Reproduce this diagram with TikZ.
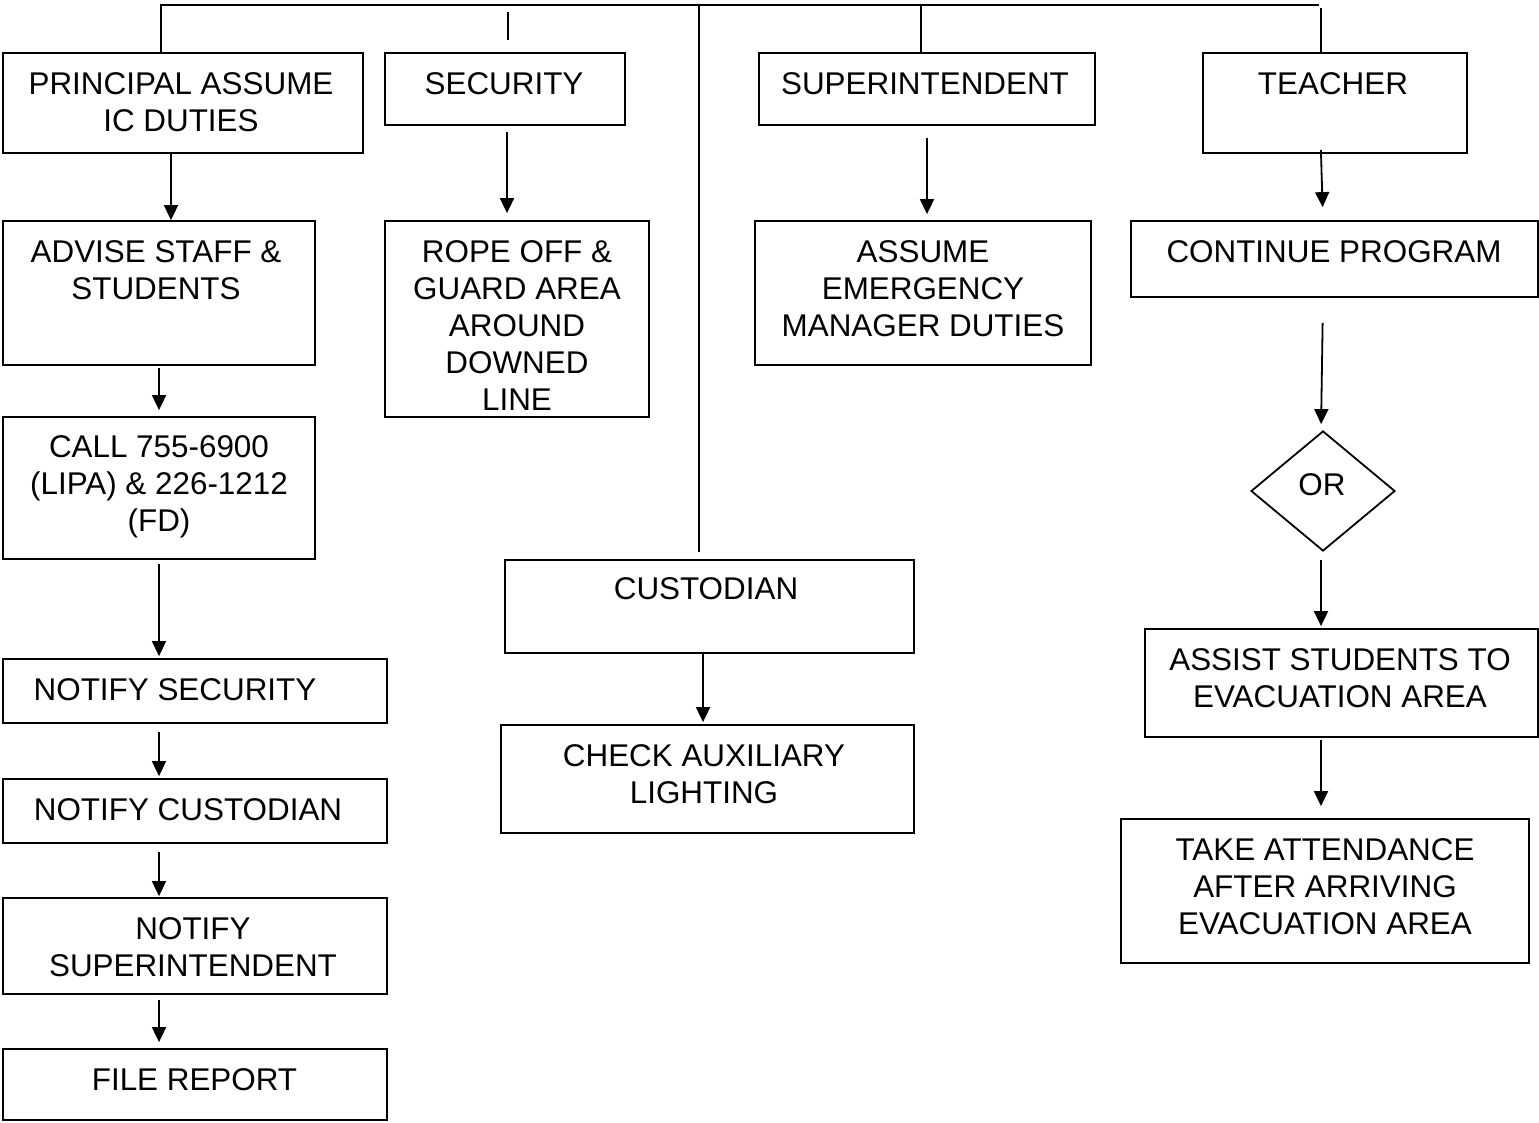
\documentclass[tikz,border=0pt]{standalone}
\usepackage{fontspec}
\setmainfont{Liberation Sans}
\usepackage{xcolor}
\usepackage{tikz}
\usetikzlibrary{arrows.meta, shapes.geometric}
\tikzset{
>={Triangle[length=15pt,width=14pt]}, % filled triangle heads
every picture/.style={line width=1.8pt}, % all strokes
box/.style={draw, rectangle, inner sep=0pt}, % the boxes, sized one by one
decision/.style={draw, diamond, inner sep=0pt}, % the OR choice
txt/.style={font=\fontsize{31.4}{37}\selectfont, align=center, inner sep=0pt, anchor=north}, % box texts
}

\begin{document}
\begin{tikzpicture}[x=1pt,y=-1pt]
    \useasboundingbox (0,0) rectangle (1539,1122);

    % top row
    \node[box, minimum width=360, minimum height=100] (pia) at (183,103) {};
    \node[box, minimum width=240, minimum height=72] (sec) at (505,89) {};
    \node[box, minimum width=336, minimum height=72] (sup) at (927,89) {};
    \node[box, minimum width=264, minimum height=100] (tch) at (1335,103) {};

    % second row
    \node[box, minimum width=312, minimum height=144] (adv) at (159,293) {};
    \node[box, minimum width=264, minimum height=196] (rope) at (517,319) {};
    \node[box, minimum width=336, minimum height=144] (emg) at (923,293) {};
    \node[box, minimum width=407, minimum height=76] (cont) at (1334.5,259) {};

    % principal column
    \node[box, minimum width=312, minimum height=142] (call) at (159,488) {};
    \node[box, minimum width=384, minimum height=64] (nsec) at (195,691) {};
    \node[box, minimum width=384, minimum height=64] (ncus) at (195,811) {};
    \node[box, minimum width=384, minimum height=96] (nsup) at (195,946) {};
    \node[box, minimum width=384, minimum height=71] (file) at (195,1084.5) {};

    % custodian column
    \node[box, minimum width=409, minimum height=93] (cust) at (709.5,606.5) {};
    \node[box, minimum width=413, minimum height=108] (chk) at (707.5,779) {};

    % teacher column
    \node[decision, minimum width=144, minimum height=120] (or) at (1323,491) {};
    \node[box, minimum width=393, minimum height=108] (asst) at (1341.5,683) {};
    \node[box, minimum width=408, minimum height=144] (take) at (1325,891) {};

    % texts
    \node[txt] (piat) at (181,72) {PRINCIPAL ASSUME\\IC DUTIES};
    \node[txt] (sect) at (504,72) {SECURITY};
    \node[txt] (supt) at (925,72) {SUPERINTENDENT};
    \node[txt] (tcht) at (1333,72) {TEACHER};
    \node[txt] (advt) at (156,240) {ADVISE STAFF \&\\STUDENTS};
    \node[txt] (ropet) at (517,240) {ROPE OFF \&\\GUARD AREA\\AROUND\\DOWNED\\LINE};
    \node[txt] (emgt) at (923,240) {ASSUME\\EMERGENCY\\MANAGER DUTIES};
    \node[txt] (contt) at (1334,240) {CONTINUE PROGRAM};
    \node[txt] (callt) at (159,435) {CALL 755-6900\\(LIPA) \& 226-1212\\(FD)};
    \node[txt] (custt) at (706,577) {CUSTODIAN};
    \node[txt] (chkt) at (704,744) {CHECK AUXILIARY\\LIGHTING};
    \node[txt] (nsect) at (175,678) {NOTIFY SECURITY};
    \node[txt] (ncust) at (188,798) {NOTIFY CUSTODIAN};
    \node[txt] (nsupt) at (193,917) {NOTIFY\\SUPERINTENDENT};
    \node[txt] (filet) at (194.5,1068) {FILE REPORT};
    \node[txt] (ort) at (1322,473) {OR};
    \node[txt] (asstt) at (1340,648) {ASSIST STUDENTS TO\\EVACUATION AREA};
    \node[txt] (taket) at (1325,838) {TAKE ATTENDANCE\\AFTER ARRIVING\\EVACUATION AREA};

    % top bar and drops
    \coordinate (c1) at (161,5);
    \coordinate (c2) at (508,12);
    \coordinate (c2b) at (508,40);
    \coordinate (c3) at (699,5);
    \coordinate (c4) at (921,5);
    \coordinate (c5) at (1321,8);
    \coordinate (br) at (1319,5);
    \draw (c1 |- pia.north) -- (c1) -- (br);
    \draw (c2) -- (c2b);
    \draw[shorten >=7pt] (c3) -- (c3 |- cust.north);
    \draw (c4) -- (c4 |- sup.north);
    \draw (c5) -- (c5 |- tch.north);

    % arrows, principal column
    \draw[->] (pia.south -| 171,0) -- (adv.north -| 171,0);
    \draw[->, shorten <=2pt, shorten >=6pt] (adv.south -| 159,0) -- (call.north -| 159,0);
    \draw[->, shorten <=4pt, shorten >=2pt] (call.south -| 159,0) -- (nsec.north -| 159,0);
    \draw[->, shorten <=8pt, shorten >=2pt] (nsec.south -| 159,0) -- (ncus.north -| 159,0);
    \draw[->, shorten <=8pt, shorten >=1pt] (ncus.south -| 159,0) -- (nsup.north -| 159,0);
    \draw[->, shorten <=5pt, shorten >=6pt] (nsup.south -| 159,0) -- (file.north -| 159,0);

    % arrows, middle
    \draw[->, shorten <=6pt, shorten >=7pt] (sec.south -| 507,0) -- (rope.north -| 507,0);
    \draw[->, shorten <=12pt, shorten >=6pt] (sup.south -| 927,0) -- (emg.north -| 927,0);
    \draw[->, shorten >=2pt] (cust.south -| 703,0) -- (chk.north -| 703,0);

    % arrows, teacher column
    \draw[->, shorten <=-4pt, shorten >=13pt] (tch.south -| 1321,0) -- (cont.north -| 1323,0);
    \draw[->, shorten <=25pt, shorten >=6pt] (cont.south -| 1323,0) -- (or.north -| 1321,0);
    \draw[->, shorten <=8pt, shorten >=2pt] (or.south -| 1321,0) -- (asst.north -| 1321,0);
    \draw[->, shorten <=2pt, shorten >=12pt] (asst.south -| 1321,0) -- (take.north -| 1321,0);
\end{tikzpicture}
\end{document}
